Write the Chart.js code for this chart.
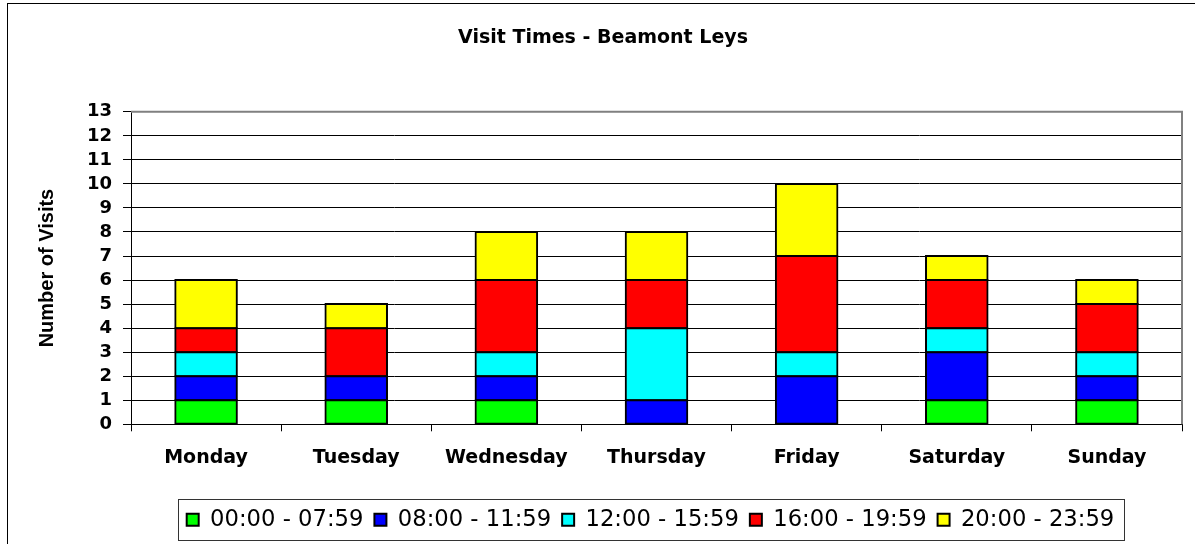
<!DOCTYPE html>
<html>
<head>
<meta charset="utf-8">
<script src="https://cdn.jsdelivr.net/npm/chart.js@4.4.0/dist/chart.umd.min.js"></script>
<style>
html,body{margin:0;padding:0;background:#fff;}
canvas{display:block;}
</style>
</head>
<body>
<canvas id="c" width="1195" height="544"></canvas>
<script>
const days = ['Monday','Tuesday','Wednesday','Thursday','Friday','Saturday','Sunday'];
const seriesNames = ['00:00 - 07:59','08:00 - 11:59','12:00 - 15:59','16:00 - 19:59','20:00 - 23:59'];
const slot0000 = [1,1,1,0,0,1,1];
const slot0800 = [1,1,1,1,2,2,1];
const slot1200 = [1,0,1,3,1,1,1];
const slot1600 = [1,2,3,2,4,2,2];
const slot2000 = [2,1,2,2,3,1,1];
const seriesColors = ['#00ff00','#0000ff','#00ffff','#ff0000','#ffff00'];
const yMin = 0, yMax = 13, yStep = 1;
const chartTitle = 'Visit Times - Beamont Leys';
const yTitle = 'Number of Visits';

const seriesValues = [slot0000, slot0800, slot1200, slot1600, slot2000];

const framePlugin = {
  id: 'frame',
  afterLayout(chart) {
    if (chart.legend) {
      chart.legend.left -= 6;
      chart.legend.right -= 6;
    }
  },
  beforeDraw(chart) {
    const ctx = chart.ctx;
    ctx.save();
    ctx.fillStyle = '#fff';
    ctx.fillRect(0, 0, chart.width, chart.height);
    ctx.restore();
  },
  afterDraw(chart) {
    const ctx = chart.ctx;
    const a = chart.chartArea;
    ctx.save();
    ctx.strokeStyle = '#000';
    ctx.lineWidth = 1;
    ctx.strokeRect(7.5, 3.5, 1400, 800);
    ctx.strokeStyle = '#808080';
    ctx.lineWidth = 2;
    ctx.beginPath();
    ctx.moveTo(a.left, a.top);
    ctx.lineTo(a.right, a.top);
    ctx.lineTo(a.right, a.bottom);
    ctx.stroke();
    const hb = chart.legend.legendHitBoxes;
    if (hb && hb.length) {
      let l = Infinity, r = -Infinity, t = Infinity, b = -Infinity;
      hb.forEach(h => { l = Math.min(l, h.left); r = Math.max(r, h.left + h.width); t = Math.min(t, h.top); b = Math.max(b, h.top + h.height); });
      ctx.strokeStyle = '#333';
      ctx.lineWidth = 1;
      ctx.strokeRect(Math.round(l - 9) + 0.5, Math.round(t - 9) + 0.5, Math.round(r - l + 18), Math.round(b - t + 18));
    }
    ctx.restore();
  }
};

new Chart(document.getElementById('c'), {
  type: 'bar',
  data: {
    labels: days,
    datasets: seriesValues.map((vals, i) => ({
      label: seriesNames[i],
      data: vals.map(v => v === 0 ? null : v),
      backgroundColor: seriesColors[i],
      borderColor: '#000',
      borderWidth: 2,
      borderSkipped: false,
      inflateAmount: 1,
      categoryPercentage: 0.41,
      barPercentage: 1
    }))
  },
  options: {
    responsive: false,
    animation: false,
    devicePixelRatio: 1,
    layout: { padding: { left: 24, right: 13, top: 0, bottom: 3 } },
    plugins: {
      title: {
        display: true,
        text: chartTitle,
        color: '#000',
        font: { family: 'DejaVu Sans', size: 19, weight: 'bold' },
        padding: { top: 27, bottom: 62 }
      },
      legend: {
        position: 'bottom',
        fullSize: false,
        labels: {
          color: '#000',
          font: { family: 'DejaVu Sans', size: 22.7 },
          boxWidth: 12,
          boxHeight: 12,
          padding: 11
        }
      },
      tooltip: { enabled: false }
    },
    scales: {
      x: {
        stacked: true,
        afterFit(s) { s.height = 73; },
        grid: { display: true, drawOnChartArea: false, drawTicks: true, tickLength: 7, color: '#000', tickColor: '#000' },
        border: { display: true, color: '#000', width: 1 },
        ticks: { color: '#000', font: { family: 'DejaVu Sans', size: 19, weight: 'bold' }, padding: 15, maxRotation: 0 }
      },
      y: {
        stacked: true,
        min: yMin,
        max: yMax,
        afterFit(s) { s.width = 107; },
        ticks: { stepSize: yStep, autoSkip: false, color: '#000', font: { family: 'DejaVu Sans', size: 18, weight: 'bold' }, padding: 11 },
        grid: { color: '#000', tickColor: '#000', tickLength: 8, lineWidth: 1 },
        border: { display: true, color: '#000', width: 1 },
        title: {
          display: true,
          text: yTitle,
          color: '#000',
          font: { family: 'Liberation Sans', size: 20, weight: 'bold' },
          padding: { top: 11, bottom: 0 }
        }
      }
    }
  },
  plugins: [framePlugin]
});
</script>
</body>
</html>
